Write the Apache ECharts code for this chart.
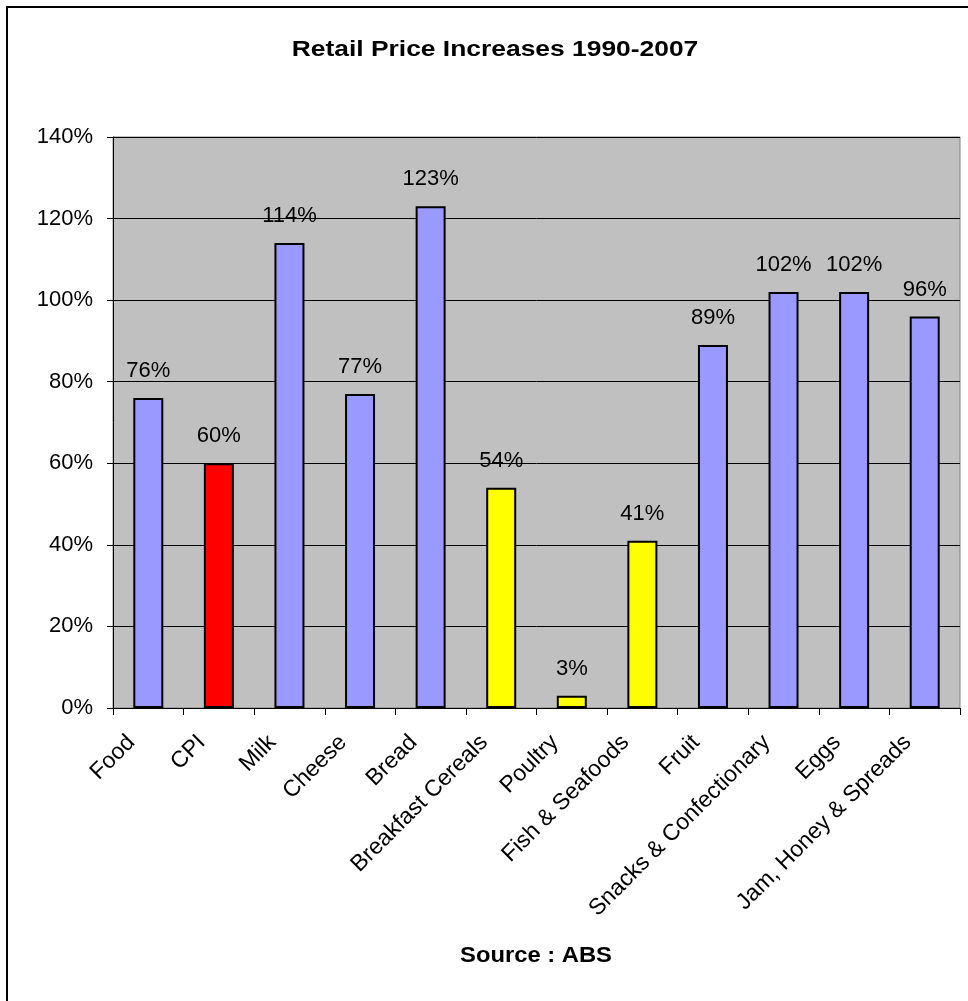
<!DOCTYPE html>
<html>
<head>
<meta charset="utf-8">
<script src="https://cdn.jsdelivr.net/npm/echarts@6/dist/echarts.min.js"></script>
<style>
html,body{margin:0;padding:0;background:#fff;}
#chart{width:968px;height:1001px;}
</style>
</head>
<body>
<div id="chart"></div>
<script>
const categories = ['Food','CPI','Milk','Cheese','Bread','Breakfast Cereals','Poultry','Fish & Seafoods','Fruit','Snacks & Confectionary','Eggs','Jam, Honey & Spreads'];
const values = [76, 60, 114, 77, 123, 54, 3, 41, 89, 102, 102, 96];
const yTicks = [0, 20, 40, 60, 80, 100, 120, 140];
const titleText = 'Retail Price Increases 1990-2007';
const sourceText = 'Source : ABS';
const redCats = ['CPI'];
const yellowCats = ['Breakfast Cereals','Poultry','Fish & Seafoods'];

function colorOf(cat){
  if (redCats.indexOf(cat) >= 0) return '#FF0000';
  if (yellowCats.indexOf(cat) >= 0) return '#FFFF00';
  return '#9999FF';
}

const FONT = '"Liberation Sans", Arial, sans-serif';
const chart = echarts.init(document.getElementById('chart'), null, {renderer:'canvas'});
const option = {
  animation: false,
  backgroundColor: '#ffffff',
  grid: {left: 113, right: 8, top: 137, bottom: 293, show: true, backgroundColor: '#C0C0C0', borderColor: '#808080', borderWidth: 1},
  graphic: [
    {type:'rect', shape:{x:7, y:7, width:1000, height:1100}, style:{fill:'none', stroke:'#000', lineWidth:2}, z:-1},
    {type:'text', x:495, y:39, scaleX:1.2, style:{text:titleText, font:'bold 22px ' + FONT, fill:'#000', textAlign:'center', textVerticalAlign:'top'}},
    {type:'text', x:536, y:945, scaleX:1.08, style:{text:sourceText, font:'bold 22px ' + FONT, fill:'#000', textAlign:'center', textVerticalAlign:'top'}}
  ],
  xAxis: {
    type: 'category',
    data: categories,
    axisLine: {lineStyle: {color: '#000', width: 1}},
    axisTick: {show: true, length: 7, lineStyle: {color: '#000'}},
    axisLabel: {rotate: 45, interval: 0, margin: 14, padding: [0, 24, 0, 0], fontSize: 23, fontFamily: FONT, color: '#000'}
  },
  yAxis: {
    type: 'value',
    min: yTicks[0], max: yTicks[yTicks.length-1], interval: 20,
    axisLine: {show: true, lineStyle: {color: '#000', width: 1}},
    axisTick: {show: true, length: 6, lineStyle: {color: '#000'}},
    axisLabel: {formatter: '{value}%', margin: 20, fontSize: 22, fontFamily: FONT, color: '#000'},
    splitLine: {show: true, lineStyle: {color: '#000', width: 1}}
  },
  series: [{
    type: 'bar',
    barWidth: 30,
    data: values.map((v, i) => ({value: v, itemStyle: {color: colorOf(categories[i])}})),
    itemStyle: {borderColor: '#000', borderWidth: 2},
    label: {show: true, position: 'top', distance: 16, formatter: '{c}%', fontSize: 22, fontFamily: FONT, color: '#000'}
  }]
};
chart.setOption(option);
</script>
</body>
</html>
